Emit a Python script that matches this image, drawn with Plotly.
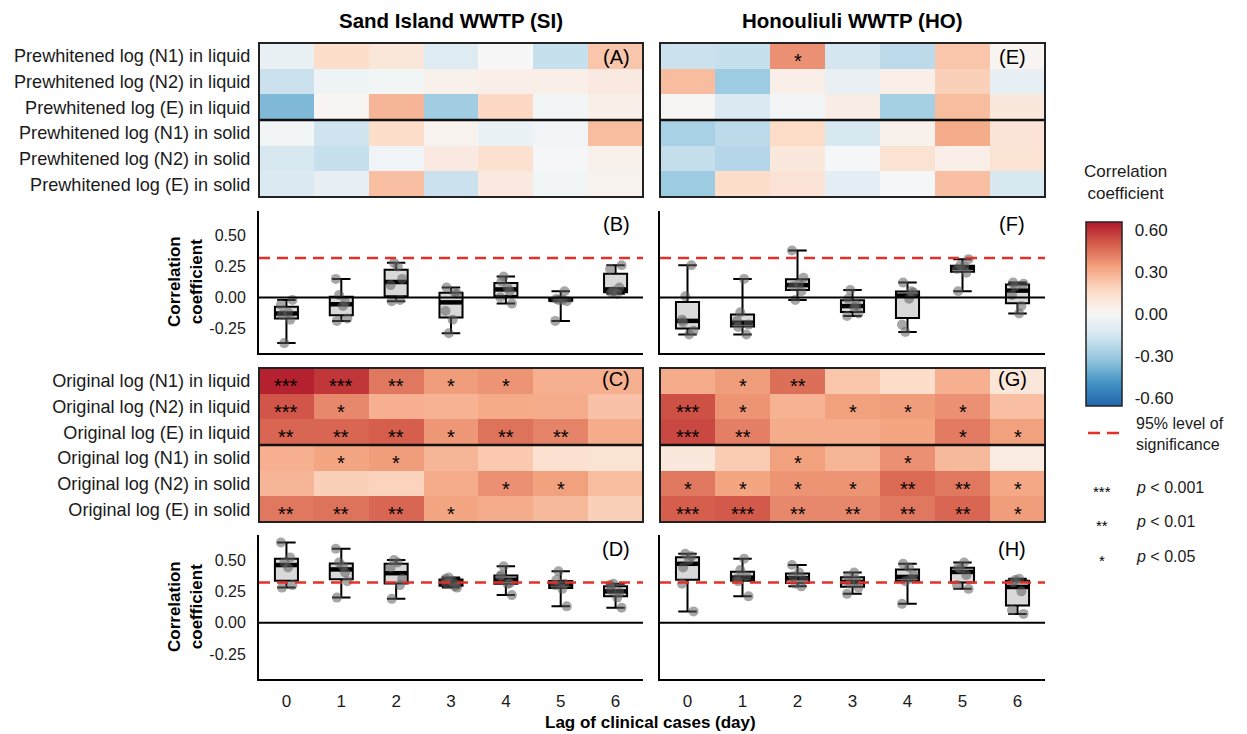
import numpy as np
import plotly.graph_objects as go

W, H = 1247, 734
PAGE_OFFSET = 8  # default body margin of the html page

# ---------------- data ----------------
lags = [0, 1, 2, 3, 4, 5, 6]
prewhitened_labels = [
    "Prewhitened log (N1) in liquid",
    "Prewhitened log (N2) in liquid",
    "Prewhitened log (E) in liquid",
    "Prewhitened log (N1) in solid",
    "Prewhitened log (N2) in solid",
    "Prewhitened log (E) in solid",
]
original_labels = [
    "Original log (N1) in liquid",
    "Original log (N2) in liquid",
    "Original log (E) in liquid",
    "Original log (N1) in solid",
    "Original log (N2) in solid",
    "Original log (E) in solid",
]

si_prewhitened = [
    [-0.06, 0.15, 0.10, -0.11, 0.00, -0.19, 0.23],
    [-0.18, -0.04, -0.02, 0.04, 0.05, 0.05, 0.08],
    [-0.37, 0.02, 0.28, -0.29, 0.17, -0.02, 0.05],
    [-0.02, -0.17, 0.15, 0.03, -0.05, -0.03, 0.26],
    [-0.14, -0.19, -0.03, 0.08, 0.13, -0.01, 0.04],
    [-0.12, -0.07, 0.25, -0.18, 0.08, -0.02, 0.03],
]
ho_prewhitened = [
    [-0.18, -0.19, 0.38, -0.15, -0.22, 0.23, 0.02],
    [0.26, -0.30, 0.05, -0.06, 0.05, 0.20, -0.07],
    [0.01, -0.12, -0.02, 0.06, -0.28, 0.26, 0.09],
    [-0.27, -0.22, 0.16, -0.13, 0.04, 0.31, 0.11],
    [-0.20, -0.24, 0.09, -0.01, 0.12, 0.05, 0.12],
    [-0.30, 0.15, 0.11, -0.08, -0.01, 0.25, -0.13],
]
si_original = [
    [0.64, 0.59, 0.44, 0.35, 0.37, 0.30, 0.30],
    [0.52, 0.40, 0.30, 0.29, 0.315, 0.31, 0.24],
    [0.48, 0.48, 0.50, 0.36, 0.45, 0.41, 0.31],
    [0.30, 0.33, 0.35, 0.28, 0.22, 0.13, 0.12],
    [0.28, 0.20, 0.19, 0.31, 0.38, 0.34, 0.26],
    [0.44, 0.45, 0.48, 0.33, 0.31, 0.27, 0.20],
]
ho_original = [
    [0.31, 0.35, 0.46, 0.23, 0.15, 0.30, 0.10],
    [0.53, 0.37, 0.29, 0.34, 0.35, 0.38, 0.25],
    [0.55, 0.42, 0.31, 0.31, 0.33, 0.43, 0.34],
    [0.09, 0.21, 0.34, 0.28, 0.38, 0.27, 0.07],
    [0.44, 0.33, 0.37, 0.37, 0.47, 0.44, 0.32],
    [0.50, 0.51, 0.40, 0.40, 0.44, 0.48, 0.35],
]

si_prewhitened_sig = [[""] * 7 for _ in range(6)]
ho_prewhitened_sig = [
    ["", "", "*", "", "", "", ""],
    ["", "", "", "", "", "", ""],
    ["", "", "", "", "", "", ""],
    ["", "", "", "", "", "", ""],
    ["", "", "", "", "", "", ""],
    ["", "", "", "", "", "", ""],
]
si_original_sig = [
    ["***", "***", "**", "*", "*", "", ""],
    ["***", "*", "", "", "", "", ""],
    ["**", "**", "**", "*", "**", "**", ""],
    ["", "*", "*", "", "", "", ""],
    ["", "", "", "", "*", "*", ""],
    ["**", "**", "**", "*", "", "", ""],
]
ho_original_sig = [
    ["", "*", "**", "", "", "", ""],
    ["***", "*", "", "*", "*", "*", ""],
    ["***", "**", "", "", "", "*", "*"],
    ["", "", "*", "", "*", "", ""],
    ["*", "*", "*", "*", "**", "**", "*"],
    ["***", "***", "**", "**", "**", "**", "*"],
]

significance_level = 0.32
colorbar_ticks = [-0.6, -0.3, 0.0, 0.3, 0.6]
box_ticks = [-0.25, 0.0, 0.25, 0.5]

# ---------------- styling ----------------
FONT = "Liberation Sans, Arial, Helvetica, sans-serif"
ZMIN, ZMAX = -0.66, 0.66
colorscale = [
    [0.0, "#2166ac"], [0.125, "#4393c3"], [0.25, "#92c5de"], [0.375, "#d1e5f0"],
    [0.5, "#f7f7f7"], [0.625, "#fddbc7"], [0.75, "#f4a582"], [0.875, "#d6604d"],
    [1.0, "#b2182b"],
]
RED = "#e4302b"


def fx(px):
    return (px - PAGE_OFFSET) / W


def fy(py):
    return 1 - (py - PAGE_OFFSET) / H


col_dom = {"SI": [fx(259), fx(643)], "HO": [fx(660), fx(1045)]}
row_dom = {
    "pre_heat": [fy(197), fy(43)],
    "pre_box": [fy(353), fy(211)],
    "org_heat": [fy(522), fy(368)],
    "org_box": [fy(679), fy(535)],
}
CB_TOP, CB_BOTTOM, CB_LEFT, CB_RIGHT = 222, 406, 1086, 1122

fig = go.Figure()
layout = dict(
    width=W, height=H, margin=dict(l=0, r=0, t=0, b=0, autoexpand=False),
    paper_bgcolor="white", plot_bgcolor="white", showlegend=False,
    font=dict(family=FONT, color="#1a1a1a"),
)
shapes, annotations = [], []


def note(x, y, text, size, xanchor="center", yanchor="middle", **kw):
    d = dict(xref="paper", yref="paper", x=x, y=y, text=text, showarrow=False,
             xanchor=xanchor, yanchor=yanchor,
             font=dict(size=size, family=FONT, color=kw.pop("color", "black")))
    d.update(kw)
    annotations.append(d)


jitter = [-0.10, 0.07, -0.04, 0.11, -0.08, 0.03]

panels = [
    # k, kind, site, row, matrix, sig, labels, letter
    (1, "heat", "SI", "pre_heat", si_prewhitened, si_prewhitened_sig, prewhitened_labels, "(A)"),
    (2, "heat", "HO", "pre_heat", ho_prewhitened, ho_prewhitened_sig, None, "(E)"),
    (3, "box", "SI", "pre_box", si_prewhitened, None, None, "(B)"),
    (4, "box", "HO", "pre_box", ho_prewhitened, None, None, "(F)"),
    (5, "heat", "SI", "org_heat", si_original, si_original_sig, original_labels, "(C)"),
    (6, "heat", "HO", "org_heat", ho_original, ho_original_sig, None, "(G)"),
    (7, "box", "SI", "org_box", si_original, None, None, "(D)"),
    (8, "box", "HO", "org_box", ho_original, None, None, "(H)"),
]

for k, kind, site, row, mat, sig, labels, letter in panels:
    suf = "" if k == 1 else str(k)
    xa, ya = f"x{suf}", f"y{suf}"
    xkey, ykey = f"xaxis{suf}", f"yaxis{suf}"
    arr = np.array(mat, dtype=float)
    if kind == "heat":
        hm = dict(
            z=arr, x=lags, y=list(range(len(mat))), xaxis=xa, yaxis=ya,
            zmin=ZMIN, zmax=ZMAX, colorscale=colorscale, showscale=(k == 1),
            hoverinfo="skip",
        )
        if k == 1:
            hm["colorbar"] = dict(
                x=fx(CB_LEFT), xanchor="left", xpad=0, ypad=0,
                y=fy((CB_TOP + CB_BOTTOM) / 2), yanchor="middle",
                len=(CB_BOTTOM - CB_TOP) / H, lenmode="fraction",
                thickness=CB_RIGHT - CB_LEFT, thicknessmode="pixels",
                outlinewidth=1.5, outlinecolor="#222",
                tickvals=colorbar_ticks, ticktext=[f"{v:.2f}" for v in colorbar_ticks],
                ticks="outside", ticklen=9, tickcolor="rgba(0,0,0,0)",
                tickfont=dict(size=17, family=FONT, color="#1a1a1a"),
            )
        fig.add_trace(go.Heatmap(**hm))
        layout[xkey] = dict(domain=col_dom[site], anchor=ya, range=[-0.5, 6.5],
                            showticklabels=False, showgrid=False, zeroline=False,
                            ticks="", fixedrange=True)
        yax = dict(domain=row_dom[row], anchor=xa, range=[5.5, -0.5],
                   showgrid=False, zeroline=False, fixedrange=True)
        if labels:
            yax.update(tickvals=list(range(len(labels))), ticktext=labels,
                       ticks="outside", ticklen=4, tickcolor="rgba(0,0,0,0)",
                       tickfont=dict(size=18.1, family=FONT, color="#1a1a1a"))
        else:
            yax.update(showticklabels=False, ticks="")
        layout[ykey] = yax
        shapes.append(dict(type="rect", xref=f"{xa} domain", yref=f"{ya} domain",
                           x0=0, x1=1, y0=0, y1=1, line=dict(color="#222", width=2),
                           layer="above"))
        shapes.append(dict(type="line", xref=f"{xa} domain", yref=ya,
                           x0=0, x1=1, y0=2.5, y1=2.5, line=dict(color="#111", width=2.5),
                           layer="above"))
        for i, srow in enumerate(sig):
            for j, s in enumerate(srow):
                if s:
                    annotations.append(dict(xref=xa, yref=ya, x=lags[j], y=i, text=s,
                                            showarrow=False, yshift=-5,
                                            xanchor="center", yanchor="middle",
                                            font=dict(size=20, color="black", family=FONT)))
    else:
        q1, med, q3 = np.percentile(arr, [25, 50, 75], axis=0)
        lo, hi = arr.min(axis=0), arr.max(axis=0)
        fig.add_trace(go.Box(
            x=lags, q1=q1, median=med, q3=q3, lowerfence=lo, upperfence=hi,
            xaxis=xa, yaxis=ya, fillcolor="#d9d9d9",
            line=dict(color="black", width=2), width=0.42, whiskerwidth=0.8,
            boxpoints=False, hoverinfo="skip",
        ))
        mx, my = [], []
        for j, m in zip(lags, med):
            mx += [j - 0.21, j + 0.21, None]
            my += [m, m, None]
        fig.add_trace(go.Scatter(x=mx, y=my, xaxis=xa, yaxis=ya, mode="lines",
                                 line=dict(color="black", width=4.5), hoverinfo="skip"))
        px_, py_ = [], []
        for i in range(arr.shape[0]):
            for j in lags:
                px_.append(j + jitter[i])
                py_.append(arr[i, j])
        fig.add_trace(go.Scatter(x=px_, y=py_, xaxis=xa, yaxis=ya, mode="markers",
                                 marker=dict(size=10, color="rgba(95,95,95,0.55)"),
                                 hoverinfo="skip"))
        bottom = row == "org_box"
        xax = dict(domain=col_dom[site], anchor=ya, range=[-0.5, 6.5],
                   showline=True, linecolor="black", linewidth=2,
                   showgrid=False, zeroline=False, fixedrange=True)
        if bottom:
            xax.update(tickvals=lags, ticktext=[str(v) for v in lags],
                       ticks="outside", ticklen=6, tickcolor="rgba(0,0,0,0)",
                       tickfont=dict(size=17, family=FONT, color="#1a1a1a"))
        else:
            xax.update(showticklabels=False, ticks="")
        layout[xkey] = xax
        yax = dict(domain=row_dom[row], anchor=xa, range=[-0.45, 0.70],
                   showline=True, linecolor="black", linewidth=2,
                   showgrid=False, zeroline=False, fixedrange=True)
        if site == "SI":
            yax.update(tickvals=box_ticks, ticktext=[f"{v:.2f}" for v in box_ticks],
                       ticks="outside", ticklen=8, tickcolor="rgba(0,0,0,0)",
                       tickfont=dict(size=16, family=FONT, color="#1a1a1a"))
        else:
            yax.update(showticklabels=False, ticks="")
        layout[ykey] = yax
        shapes.append(dict(type="line", xref=f"{xa} domain", yref=ya, x0=0, x1=1,
                           y0=significance_level, y1=significance_level,
                           line=dict(color=RED, width=2.5, dash="11px,7px"), layer="above"))
        shapes.append(dict(type="line", xref=f"{xa} domain", yref=ya, x0=0, x1=1,
                           y0=0, y1=0, line=dict(color="black", width=2), layer="above"))
        if site == "SI":
            annotations.append(dict(xref="paper", yref=f"{ya} domain", x=fx(185), y=0.5,
                                    xanchor="center", yanchor="middle",
                                    text="<b>Correlation<br>coefficient</b>", textangle=-90,
                                    showarrow=False,
                                    font=dict(size=17, family=FONT, color="black")))

    # panel letter
    letter_y = {"pre_heat": 57, "pre_box": 224, "org_heat": 379, "org_box": 549}[row]
    letter_x = 616 if site == "SI" else 1012
    note(fx(letter_x), fy(letter_y), letter, 20)

# white tick marks inside the colour bar (both sides)
for v in colorbar_ticks:
    ypx = (CB_TOP + CB_BOTTOM) / 2 - v / ZMAX * (CB_BOTTOM - CB_TOP) / 2
    for x0, x1 in [(CB_LEFT + 1, CB_LEFT + 8), (CB_RIGHT - 8, CB_RIGHT - 1)]:
        shapes.append(dict(type="line", xref="paper", yref="paper",
                           x0=fx(x0), x1=fx(x1), y0=fy(ypx), y1=fy(ypx),
                           line=dict(color="white", width=1.2)))

# titles
note(fx(451), fy(21), "<b>Sand Island WWTP (SI)</b>", 20.5)
note(fx(852), fy(21), "<b>Honouliuli WWTP (HO)</b>", 20.5)
note(fx(651), fy(722), "<b>Lag of clinical cases (day)</b>", 17)

# colorbar title
note(fx(1082), fy(182), "Correlation<br>coefficient", 17, xanchor="left",
     align="center", color="#1a1a1a")

# legend: significance line
shapes.append(dict(type="line", xref="paper", yref="paper", x0=fx(1088), x1=fx(1119),
                   y0=fy(433), y1=fy(433),
                   line=dict(color=RED, width=2.5, dash="12px,7px")))
note(fx(1134), fy(434), "95% level of<br>significance", 16, xanchor="left",
     align="left", color="#1a1a1a")
legend_stars = ["***", "**", "*"]
legend_p = ["0.001", "0.01", "0.05"]
legend_y = [487, 521, 556]
for s, p, yy in zip(legend_stars, legend_p, legend_y):
    note(fx(1102), fy(yy), s, 15, yshift=-4)
    note(fx(1134), fy(yy), f"<i>p</i> < {p}", 16, xanchor="left", color="#1a1a1a")

layout["shapes"] = shapes
layout["annotations"] = annotations
fig.update_layout(**layout)
fig.write_html("out.html")
